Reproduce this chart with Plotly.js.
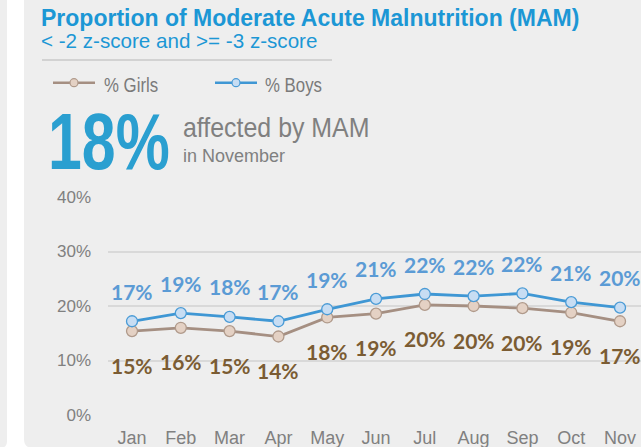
<!DOCTYPE html>
<html>
<head>
<meta charset="utf-8">
<script src="https://cdn.plot.ly/plotly-3.0.1.min.js"></script>
<style>
  html, body { margin: 0; padding: 0; background: #eeeeee; }
  #chart { width: 641px; height: 447px; }
</style>
</head>
<body>
<div id="chart"></div>
<script>
// ---- data ----
const months = ['Jan', 'Feb', 'Mar', 'Apr', 'May', 'Jun', 'Jul', 'Aug', 'Sep', 'Oct', 'Nov'];
const girls = [0.154, 0.160, 0.154, 0.144, 0.179, 0.186, 0.202, 0.200, 0.196, 0.188, 0.172];
const boys  = [0.172, 0.187, 0.180, 0.172, 0.194, 0.213, 0.222, 0.218, 0.223, 0.207, 0.197];
const seriesNames = ['% Girls', '% Boys'];
const yTickVals = [0, 0.1, 0.2, 0.3, 0.4];
const yTickText = ['0%', '10%', '20%', '30%', '40%'];
const headlineValue = '18%';
const headlineMonth = 'in November';
const titleText = 'Proportion of Moderate Acute Malnutrition (MAM)';
const subtitleText = '&lt; -2 z-score and &gt;= -3 z-score';
const headlineText = 'affected by MAM';

// ---- layout helpers ----
const W = 641, H = 447, ML = 108, MR = 0, MT = 197, MB = 32;
const PW = W - ML - MR, PH = H - MT - MB;
const px = x => (x - ML) / PW;
const py = y => (H - MB - y) / PH;

const girlsLine = '#a58f82', girlsFill = '#e4d1c4', girlsEdge = '#b09a8b', girlsText = '#7b5c33';
const boysLine = '#3f97d4', boysFill = '#c7ddf3', boysEdge = '#4a9bd6', boysText = '#5b9bd5';
const labelFont = 'Lato, "Open Sans", sans-serif';
const sansFont = '"Liberation Sans", Arial, sans-serif';

const traces = [
  {
    x: months, y: girls, name: seriesNames[0], type: 'scatter', mode: 'lines+markers',
    line: { color: girlsLine, width: 2.8 },
    marker: { size: 11, color: girlsFill, line: { color: girlsEdge, width: 1.3 } },
    cliponaxis: false, showlegend: false, hoverinfo: 'skip'
  },
  {
    x: months, y: boys, name: seriesNames[1], type: 'scatter', mode: 'lines+markers',
    line: { color: boysLine, width: 2.8 },
    marker: { size: 11, color: boysFill, line: { color: boysEdge, width: 1.3 } },
    cliponaxis: false, showlegend: false, hoverinfo: 'skip'
  }
];

const pct = v => Math.round(v * 100) + '%';
const annotations = [];
months.forEach((m, i) => {
  annotations.push({
    x: m, y: boys[i], xref: 'x', yref: 'y', text: pct(boys[i]), showarrow: false,
    yshift: 30, xanchor: 'center', yanchor: 'middle',
    font: { family: labelFont, size: 21, color: boysText, weight: 700 }
  });
  annotations.push({
    x: m, y: girls[i], xref: 'x', yref: 'y', text: pct(girls[i]), showarrow: false,
    yshift: -34, xanchor: 'center', yanchor: 'middle',
    font: { family: labelFont, size: 21, color: girlsText, weight: 700 }
  });
});

// header texts; "sx" = horizontal condensing applied after drawing
const condense = {};
function headerText(text, x, y, size, color, weight, sx) {
  annotations.push({
    text: text, xref: 'paper', yref: 'paper', x: px(x), y: py(y), xanchor: 'left', yanchor: 'middle',
    showarrow: false, borderpad: 0,
    font: { family: sansFont, size: size, color: color, weight: weight || 400 }
  });
  if (sx) condense[annotations.length - 1] = sx;
}
headerText(titleText, 40, 18, 23, '#1c97d5', 700);
headerText(subtitleText, 40, 40, 20.6, '#1c97d5');
headerText(seriesNames[0], 103, 84, 21, '#7a7a7a', 400, 0.8);
headerText(seriesNames[1], 264, 84, 21, '#7a7a7a', 400, 0.8);
headerText(headlineValue, 47, 141, 80, '#2a9fd0', 700, 0.76);
headerText(headlineText, 182, 127.5, 28, '#808080', 400, 0.89);
headerText(headlineMonth, 182, 155.5, 18, '#808080');

// shapes: separator, legend symbols, white strip
const circle = (cx, cy, r, fill, edge) => ({
  type: 'circle', xref: 'paper', yref: 'paper',
  x0: px(cx - r), x1: px(cx + r), y0: py(cy + r), y1: py(cy - r),
  fillcolor: fill, line: { color: edge, width: 1.2 }
});
const hline = (x0, x1, y, color, w) => ({
  type: 'line', xref: 'paper', yref: 'paper', x0: px(x0), x1: px(x1), y0: py(y), y1: py(y),
  line: { color: color, width: w }
});
const P = (x, y) => px(x) + ',' + py(y);
const shapes = [
  {
    type: 'path', xref: 'paper', yref: 'paper', fillcolor: '#ffffff', line: { width: 0 },
    path: 'M' + P(7, -2) + ' L' + P(24, -2) + ' L' + P(24, 439) + ' Q' + P(24, 448) + ' ' + P(33, 448) +
          ' L' + P(0, 448) + ' Q' + P(7, 448) + ' ' + P(7, 441) + ' Z'
  },
  hline(42, 332, 60, '#d2d2d2', 2),
  hline(53, 95, 82.7, girlsLine, 2.5),
  circle(74, 82.7, 4, girlsFill, girlsEdge),
  hline(215, 257, 82.7, boysLine, 2.5),
  circle(236, 82.7, 4, boysFill, boysEdge)
];

const layout = {
  width: W, height: H,
  margin: { l: ML, r: MR, t: MT, b: MB, pad: 0 },
  paper_bgcolor: '#eeeeee', plot_bgcolor: 'rgba(0,0,0,0)',
  showlegend: false,
  xaxis: {
    type: 'category', range: [-0.492, 10.43], showgrid: false, zeroline: false, showline: false,
    ticks: '', ticklabelstandoff: 10,
    tickfont: { family: sansFont, size: 18, color: '#808080' }
  },
  yaxis: {
    range: [0, 0.4], tickvals: yTickVals, ticktext: yTickText,
    showgrid: true, gridcolor: '#d9d9d9', gridwidth: 2, zeroline: false, showline: false,
    ticks: '', ticklabelstandoff: 16,
    tickfont: { family: sansFont, size: 17, color: '#808080' }
  },
  annotations: annotations,
  shapes: shapes
};

Plotly.newPlot('chart', traces, layout, { staticPlot: true, displayModeBar: false }).then(gd => {
  const groups = gd.querySelectorAll('.annotation');
  groups.forEach(g => {
    const idx = +g.getAttribute('data-index');
    const sx = condense[idx];
    if (!sx) return;
    const t = g.querySelector('text.annotation-text');
    if (!t) return;
    const bb = t.getBBox();
    const x0 = bb.x;
    const prev = t.getAttribute('transform') || '';
    t.setAttribute('transform', prev + ' translate(' + (x0 * (1 - sx)) + ',0) scale(' + sx + ',1)');
  });
});
</script>
</body>
</html>
